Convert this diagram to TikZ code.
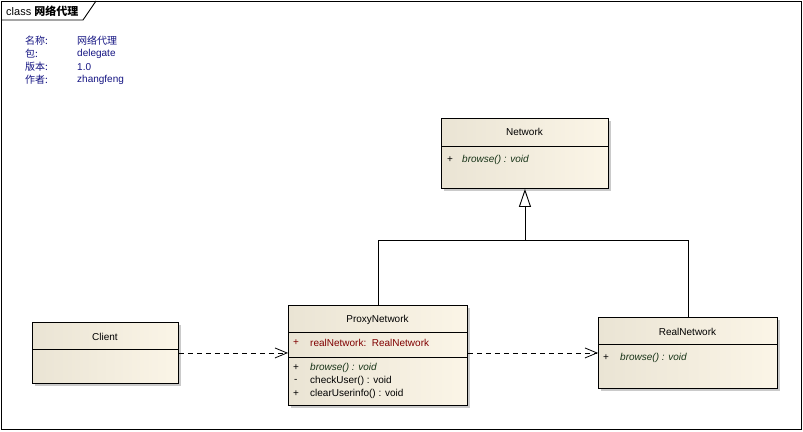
\documentclass[tikz,border=0pt]{standalone}
\usepackage{fontspec}
\setmainfont{Liberation Sans}
\newfontfamily\cjk{Noto Sans CJK SC}
\usetikzlibrary{arrows.meta,shadows}

\definecolor{eaLeft}{RGB}{234,228,212}
\definecolor{eaRight}{RGB}{251,245,231}
\definecolor{eaNavy}{RGB}{20,20,130}
\definecolor{eaRed}{RGB}{128,0,0}
\definecolor{eaOp}{RGB}{24,52,24}

\begin{document}
\begin{tikzpicture}[
        x=1pt, y=-1pt,
        every node/.style={font=\fontsize{10}{12}\selectfont, inner sep=0pt},
        umlclass/.style={rectangle, draw=black, line width=0.9pt, left color=eaLeft, right color=eaRight, anchor=north west,
            drop shadow={shadow xshift=3pt, shadow yshift=-3pt, fill=black!35, opacity=0.6}},
        info/.style={anchor=west, text=eaNavy, font=\fontsize{10}{12}\selectfont},
        member/.style={anchor=west},
        opname/.style={anchor=west, text=eaOp, font=\fontsize{10}{12}\selectfont\itshape},
        attr/.style={anchor=west, text=eaRed},
        divider/.style={line width=0.9pt},
        depend/.style={draw=black, line width=0.8pt, dash pattern=on 5pt off 4pt, -{Straight Barb[length=12pt, width=10pt]}},
        inherit/.style={draw=black, line width=0.9pt}
        ]
        \useasboundingbox (0,0) rectangle (803,431);

        % Frame and title tab
        \draw[line width=1pt] (1,1) rectangle (801,429);
        \draw[line width=0.9pt] (1,20) -- (83,20) -- (96,1);
        \node[anchor=west, font=\fontsize{11}{13}\selectfont] (title) at (6,11) {class {\cjk\bfseries 网络代理}};

        % Package info
        \node[info] (lblname) at (25,41) {\cjk 名称:};
        \node[info] (valname) at (77,41) {\cjk 网络代理};
        \node[info] (lblpkg) at (25,54) {\cjk 包:};
        \node[info] (valpkg) at (77,54) {delegate};
        \node[info] (lblver) at (25,67) {\cjk 版本:};
        \node[info] (valver) at (77,67) {1.0};
        \node[info] (lblauth) at (25,80) {\cjk 作者:};
        \node[info] (valauth) at (77,80) {zhangfeng};

        % Classes
        \node[umlclass, minimum width=167pt, minimum height=70pt] (network) at (441,118) {};
        \node[umlclass, minimum width=179pt, minimum height=100pt] (proxy) at (288,305) {};
        \node[umlclass, minimum width=179pt, minimum height=71pt] (real) at (598,317) {};
        \node[umlclass, minimum width=146pt, minimum height=61pt] (client) at (32,322) {};

        % Network
        \node (networkname) at (524.5,132) {Network};
        \draw[divider] (441,146) -- (608,146);
        \node[member] (networkvis) at (447,160) {+};
        \node[opname] (networkop) at (462,160) {browse() : void};

        % ProxyNetwork
        \node (proxyname) at (377.5,320) {ProxyNetwork};
        \draw[divider] (288,332) -- (467,332);
        \node[attr] (proxyattrvis) at (293,343) {+};
        \node[attr] (proxyattr) at (310,343) {realNetwork:\ \ RealNetwork};
        \draw[divider] (288,357) -- (467,357);
        \node[member] (proxyvisa) at (293,368) {+};
        \node[opname] (proxyopa) at (310,368) {browse() : void};
        \node[member] (proxyvisb) at (294,381) {-};
        \node[member] (proxyopb) at (310,381) {checkUser() : void};
        \node[member] (proxyvisc) at (293,394) {+};
        \node[member] (proxyopc) at (310,394) {clearUserinfo() : void};

        % RealNetwork
        \node (realname) at (687.5,332) {RealNetwork};
        \draw[divider] (598,344) -- (777,344);
        \node[member] (realvis) at (603,358) {+};
        \node[opname] (realop) at (620,358) {browse() : void};

        % Client
        \node (clientname) at (105,337) {Client};
        \draw[divider] (32,349) -- (178,349);

        % Generalization
        \coordinate (genjoin) at (network.south |- 0,240);
        \draw[inherit] (proxy.north) |- (genjoin);
        \draw[inherit] (real.north) |- (genjoin);
        \draw[inherit, -{Triangle[open, length=18pt, width=12pt, fill=white]}] (genjoin) -- (network.south);

        % Dependencies
        \draw[depend] (client.east) -- (proxy.west |- client.east);
        \draw[depend] (proxy.east |- real.west) -- (real.west);

    \end{tikzpicture}
\end{document}
